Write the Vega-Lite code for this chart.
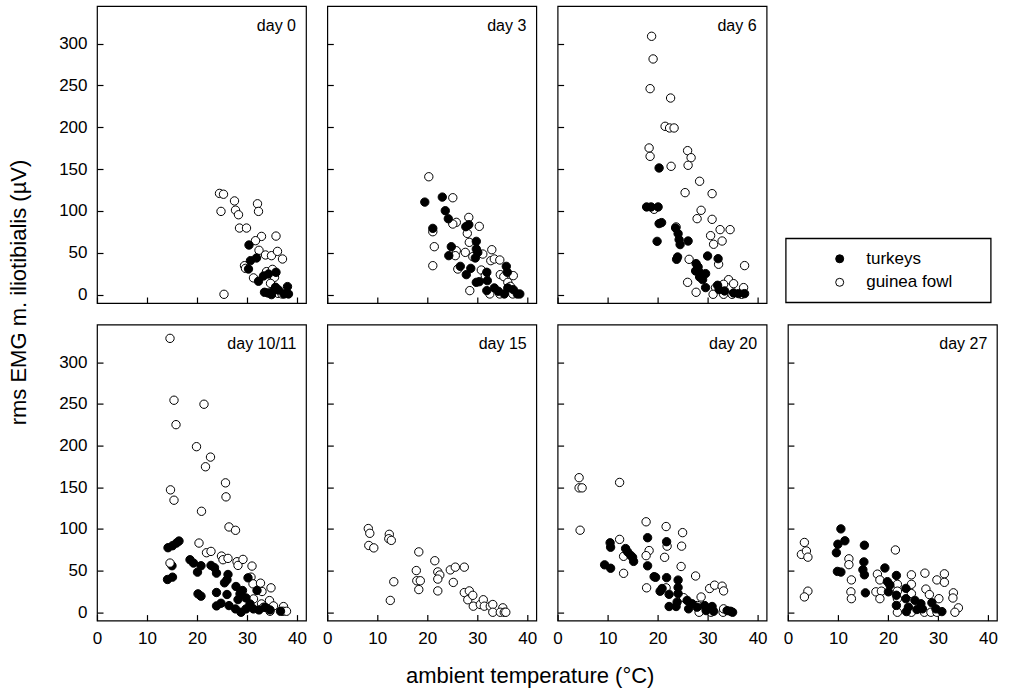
{
"$schema": "https://vega.github.io/schema/vega-lite/v6.json",
"background": "white",
"padding": {"left": 6, "top": 5, "right": 0, "bottom": 0},
"bounds": "flush",
"columns": 4,
"spacing": {"row": 21.6, "column": 21.3},
"title": {"text": "ambient temperature (°C)", "orient": "bottom", "anchor": "middle", "frame": "bounds", "fontSize": 22, "fontWeight": "normal", "font": "Liberation Sans", "color": "black", "baseline": "alphabetic", "offset": 36, "dx": 28},
"config": {
  "font": "Liberation Sans",
  "view": {"stroke": "black", "strokeWidth": 1.2},
  "title": {"anchor": "end", "orient": "top", "offset": -27.5, "dx": -10, "fontSize": 16, "fontWeight": "normal", "baseline": "alphabetic", "color": "black", "font": "Liberation Sans"},
  "axis": {"grid": false, "domain": false, "tickColor": "black", "tickSize": -6, "tickWidth": 1.2, "labelFontSize": 17, "labelColor": "black", "labelPadding": 16, "labelFont": "Liberation Sans", "labelFlush": false, "labelOverlap": false},
  "legend": {"orient": "none", "legendX": 688.7, "legendY": 232.3, "strokeColor": "black", "strokeWidth": 1.3, "fillColor": "white", "padding": 12, "symbolOffset": 33.5, "symbolSize": 64, "symbolType": "circle", "symbolStrokeColor": "black", "symbolStrokeWidth": 1, "labelFontSize": 17, "labelOffset": 18, "rowPadding": 5.5, "labelColor": "black", "labelFont": "Liberation Sans", "titleOrient": "right", "titlePadding": 26, "titleFontSize": 8}
},
"datasets": {
"d0": [
{"species":"guinea fowl","temp":24.5,"emg":121},{"species":"guinea fowl","temp":25.3,"emg":120},{"species":"guinea fowl","temp":24.8,"emg":99.5},{"species":"guinea fowl","temp":27.5,"emg":112},{"species":"guinea fowl","temp":27.7,"emg":101},{"species":"guinea fowl","temp":28.3,"emg":95.5},{"species":"guinea fowl","temp":28.5,"emg":79.6},{"species":"guinea fowl","temp":29.9,"emg":79.6},{"species":"guinea fowl","temp":25.4,"emg":0.4},{"species":"guinea fowl","temp":32.1,"emg":108.6},{"species":"guinea fowl","temp":32.3,"emg":99.5},{"species":"guinea fowl","temp":32.9,"emg":69.6},{"species":"guinea fowl","temp":35.8,"emg":70},{"species":"guinea fowl","temp":31.7,"emg":64.5},{"species":"guinea fowl","temp":32.4,"emg":53},{"species":"guinea fowl","temp":33.7,"emg":47.4},{"species":"guinea fowl","temp":34.9,"emg":46.6},{"species":"guinea fowl","temp":36.1,"emg":51.7},{"species":"guinea fowl","temp":37.1,"emg":42.6},{"species":"guinea fowl","temp":29.5,"emg":34.6},{"species":"guinea fowl","temp":29.7,"emg":31.4},{"species":"guinea fowl","temp":31.3,"emg":20},{"species":"guinea fowl","temp":33.9,"emg":27.5},{"species":"guinea fowl","temp":35.1,"emg":30.2},{"species":"guinea fowl","temp":35.5,"emg":20.7},{"species":"guinea fowl","temp":34.7,"emg":13.5},{"species":"guinea fowl","temp":36.2,"emg":1.6},{"species":"guinea fowl","temp":37,"emg":0.8},
{"species":"turkeys","temp":30.4,"emg":59.3},{"species":"turkeys","temp":30.7,"emg":40.6},{"species":"turkeys","temp":30.3,"emg":30.6},{"species":"turkeys","temp":31.9,"emg":43.8},{"species":"turkeys","temp":32.3,"emg":16},{"species":"turkeys","temp":33.3,"emg":22.3},{"species":"turkeys","temp":34.3,"emg":24.7},{"species":"turkeys","temp":35.8,"emg":26.7},{"species":"turkeys","temp":33.5,"emg":2.8},{"species":"turkeys","temp":34.2,"emg":2},{"species":"turkeys","temp":35.7,"emg":8.8},{"species":"turkeys","temp":36.3,"emg":5.6},{"species":"turkeys","temp":38.1,"emg":9.6},{"species":"turkeys","temp":38.3,"emg":0.8},{"species":"turkeys","temp":37.4,"emg":0.8},{"species":"turkeys","temp":34.9,"emg":0},{"species":"turkeys","temp":35.3,"emg":4.8}
],
"d3": [
{"species":"guinea fowl","temp":20.3,"emg":140.9},{"species":"guinea fowl","temp":25.1,"emg":115.8},{"species":"guinea fowl","temp":21.1,"emg":75.2},{"species":"guinea fowl","temp":21.4,"emg":57.3},{"species":"guinea fowl","temp":21.1,"emg":34.6},{"species":"guinea fowl","temp":25.8,"emg":86.4},{"species":"guinea fowl","temp":25.1,"emg":84.4},{"species":"guinea fowl","temp":28.3,"emg":92.3},{"species":"guinea fowl","temp":28,"emg":73.2},{"species":"guinea fowl","temp":30.4,"emg":81.6},{"species":"guinea fowl","temp":28.4,"emg":62.5},{"species":"guinea fowl","temp":25.8,"emg":52.5},{"species":"guinea fowl","temp":25.6,"emg":46.6},{"species":"guinea fowl","temp":27.6,"emg":50.5},{"species":"guinea fowl","temp":29.1,"emg":45.4},{"species":"guinea fowl","temp":31.1,"emg":48.5},{"species":"guinea fowl","temp":32.9,"emg":53.7},{"species":"guinea fowl","temp":26.1,"emg":30.6},{"species":"guinea fowl","temp":30.8,"emg":29.4},{"species":"guinea fowl","temp":32.7,"emg":40.6},{"species":"guinea fowl","temp":33.4,"emg":42.6},{"species":"guinea fowl","temp":34.5,"emg":41.4},{"species":"guinea fowl","temp":31.6,"emg":22.7},{"species":"guinea fowl","temp":34.6,"emg":23.9},{"species":"guinea fowl","temp":37.2,"emg":22.7},{"species":"guinea fowl","temp":35.3,"emg":21.5},{"species":"guinea fowl","temp":36.1,"emg":14.7},{"species":"guinea fowl","temp":36.6,"emg":9.9},{"species":"guinea fowl","temp":28.5,"emg":4.8},{"species":"guinea fowl","temp":32.5,"emg":0.8},{"species":"guinea fowl","temp":34.5,"emg":0.8},{"species":"guinea fowl","temp":37.1,"emg":0.8},
{"species":"turkeys","temp":19.5,"emg":110.6},{"species":"turkeys","temp":23,"emg":116.6},{"species":"turkeys","temp":23.6,"emg":100.3},{"species":"turkeys","temp":24.2,"emg":90.7},{"species":"turkeys","temp":27.7,"emg":81.2},{"species":"turkeys","temp":28.3,"emg":83.6},{"species":"turkeys","temp":24.8,"emg":57.3},{"species":"turkeys","temp":24.3,"emg":46.6},{"species":"turkeys","temp":26.6,"emg":33.8},{"species":"turkeys","temp":27.8,"emg":23.9},{"species":"turkeys","temp":28.7,"emg":31.4},{"species":"turkeys","temp":29.8,"emg":63.7},{"species":"turkeys","temp":29.8,"emg":54.5},{"species":"turkeys","temp":30.1,"emg":50.5},{"species":"turkeys","temp":29.6,"emg":43.8},{"species":"turkeys","temp":29.8,"emg":14.7},{"species":"turkeys","temp":30.4,"emg":15.5},{"species":"turkeys","temp":31.9,"emg":26.7},{"species":"turkeys","temp":32,"emg":16.7},{"species":"turkeys","temp":31.9,"emg":4.8},{"species":"turkeys","temp":33.4,"emg":8},{"species":"turkeys","temp":34.2,"emg":4},{"species":"turkeys","temp":35.8,"emg":33.8},{"species":"turkeys","temp":36,"emg":26.7},{"species":"turkeys","temp":36.1,"emg":8},{"species":"turkeys","temp":37.2,"emg":6},{"species":"turkeys","temp":38,"emg":0.8},{"species":"turkeys","temp":38.5,"emg":0.8},{"species":"turkeys","temp":35.4,"emg":0.8},{"species":"turkeys","temp":21.1,"emg":79.2}
],
"d6": [
{"species":"guinea fowl","temp":18.8,"emg":308.8},{"species":"guinea fowl","temp":19.1,"emg":281.7},{"species":"guinea fowl","temp":18.5,"emg":246.2},{"species":"guinea fowl","temp":22.6,"emg":235},{"species":"guinea fowl","temp":21.5,"emg":201.2},{"species":"guinea fowl","temp":22.4,"emg":199.2},{"species":"guinea fowl","temp":23.3,"emg":199.2},{"species":"guinea fowl","temp":18.3,"emg":175.3},{"species":"guinea fowl","temp":18.5,"emg":165.3},{"species":"guinea fowl","temp":22.7,"emg":153.4},{"species":"guinea fowl","temp":26,"emg":172.1},{"species":"guinea fowl","temp":26.7,"emg":163.7},{"species":"guinea fowl","temp":26.1,"emg":154.6},{"species":"guinea fowl","temp":28.4,"emg":135.5},{"species":"guinea fowl","temp":25.5,"emg":121.9},{"species":"guinea fowl","temp":30.9,"emg":120.7},{"species":"guinea fowl","temp":19.3,"emg":102},{"species":"guinea fowl","temp":28.7,"emg":100.8},{"species":"guinea fowl","temp":27.9,"emg":90.8},{"species":"guinea fowl","temp":30.9,"emg":90},{"species":"guinea fowl","temp":23.7,"emg":80.9},{"species":"guinea fowl","temp":32.5,"emg":77.7},{"species":"guinea fowl","temp":34.5,"emg":77.7},{"species":"guinea fowl","temp":30.6,"emg":70.5},{"species":"guinea fowl","temp":32.9,"emg":64.1},{"species":"guinea fowl","temp":31.2,"emg":60.2},{"species":"guinea fowl","temp":26.3,"emg":42.2},{"species":"guinea fowl","temp":32.2,"emg":36.3},{"species":"guinea fowl","temp":37.4,"emg":34.7},{"species":"guinea fowl","temp":26,"emg":14.7},{"species":"guinea fowl","temp":27.7,"emg":2.8},{"species":"guinea fowl","temp":34.2,"emg":17.9},{"species":"guinea fowl","temp":33.2,"emg":12.4},{"species":"guinea fowl","temp":35.2,"emg":13.1},{"species":"guinea fowl","temp":37.2,"emg":8.4},{"species":"guinea fowl","temp":31.6,"emg":8.4},{"species":"guinea fowl","temp":31.1,"emg":0.4},{"species":"guinea fowl","temp":33.2,"emg":0.4},{"species":"guinea fowl","temp":34.9,"emg":0.4},{"species":"guinea fowl","temp":36.8,"emg":0.4},
{"species":"turkeys","temp":20.3,"emg":151.4},{"species":"turkeys","temp":17.8,"emg":104.8},{"species":"turkeys","temp":18.7,"emg":104.8},{"species":"turkeys","temp":20.1,"emg":104.8},{"species":"turkeys","temp":20.3,"emg":84.9},{"species":"turkeys","temp":20.8,"emg":86.1},{"species":"turkeys","temp":19.9,"emg":63.7},{"species":"turkeys","temp":23.6,"emg":79.7},{"species":"turkeys","temp":24.1,"emg":72.9},{"species":"turkeys","temp":24.3,"emg":65.7},{"species":"turkeys","temp":26.1,"emg":64.1},{"species":"turkeys","temp":24.5,"emg":59.8},{"species":"turkeys","temp":24,"emg":45},{"species":"turkeys","temp":23.8,"emg":42.2},{"species":"turkeys","temp":27.7,"emg":37.1},{"species":"turkeys","temp":28.1,"emg":33.1},{"species":"turkeys","temp":28.3,"emg":27.1},{"species":"turkeys","temp":28.4,"emg":21.1},{"species":"turkeys","temp":29,"emg":17.9},{"species":"turkeys","temp":29.6,"emg":25.1},{"species":"turkeys","temp":30,"emg":46.2},{"species":"turkeys","temp":32.1,"emg":43},{"species":"turkeys","temp":29.6,"emg":8.4},{"species":"turkeys","temp":32,"emg":11.2},{"species":"turkeys","temp":32.3,"emg":6},{"species":"turkeys","temp":33.4,"emg":4.4},{"species":"turkeys","temp":35.2,"emg":2},{"species":"turkeys","temp":36.2,"emg":1.2},{"species":"turkeys","temp":37.4,"emg":1.2},{"species":"turkeys","temp":27.6,"emg":28.3}
],
"d10": [
{"species":"guinea fowl","temp":14.6,"emg":328.5},{"species":"guinea fowl","temp":15.4,"emg":254.3},{"species":"guinea fowl","temp":15.8,"emg":225},{"species":"guinea fowl","temp":21.4,"emg":249.5},{"species":"guinea fowl","temp":19.9,"emg":198.6},{"species":"guinea fowl","temp":22.7,"emg":186.1},{"species":"guinea fowl","temp":21.7,"emg":174.5},{"species":"guinea fowl","temp":25.7,"emg":155.2},{"species":"guinea fowl","temp":25.8,"emg":138.4},{"species":"guinea fowl","temp":14.7,"emg":146.8},{"species":"guinea fowl","temp":15.4,"emg":134.4},{"species":"guinea fowl","temp":20.9,"emg":121.1},{"species":"guinea fowl","temp":26.4,"emg":102.3},{"species":"guinea fowl","temp":27.7,"emg":98.3},{"species":"guinea fowl","temp":20.4,"emg":83},{"species":"guinea fowl","temp":21.9,"emg":71.4},{"species":"guinea fowl","temp":22.8,"emg":73},{"species":"guinea fowl","temp":24.9,"emg":67.4},{"species":"guinea fowl","temp":25.2,"emg":63},{"species":"guinea fowl","temp":26.2,"emg":64.6},{"species":"guinea fowl","temp":28,"emg":60.6},{"species":"guinea fowl","temp":28.2,"emg":56.2},{"species":"guinea fowl","temp":29.2,"emg":63.4},{"species":"guinea fowl","temp":31,"emg":55.4},{"species":"guinea fowl","temp":30.8,"emg":42.1},{"species":"guinea fowl","temp":31.2,"emg":34.1},{"species":"guinea fowl","temp":32.7,"emg":34.9},{"species":"guinea fowl","temp":34.8,"emg":29.3},{"species":"guinea fowl","temp":33,"emg":24.9},{"species":"guinea fowl","temp":31.3,"emg":16},{"species":"guinea fowl","temp":32.9,"emg":10},{"species":"guinea fowl","temp":34.5,"emg":14},{"species":"guinea fowl","temp":35.3,"emg":7.6},{"species":"guinea fowl","temp":37.3,"emg":6.8},{"species":"guinea fowl","temp":34.6,"emg":1.2},{"species":"guinea fowl","temp":37.2,"emg":1.2},{"species":"guinea fowl","temp":37.9,"emg":1.2},{"species":"guinea fowl","temp":33.3,"emg":6},
{"species":"turkeys","temp":14.2,"emg":77.4},{"species":"turkeys","temp":15.1,"emg":79.8},{"species":"turkeys","temp":15.9,"emg":83},{"species":"turkeys","temp":16.4,"emg":85.4},{"species":"turkeys","temp":14.1,"emg":39.3},{"species":"turkeys","temp":15.1,"emg":42.1},{"species":"turkeys","temp":15,"emg":55.8},{"species":"turkeys","temp":18.6,"emg":63},{"species":"turkeys","temp":19.3,"emg":59},{"species":"turkeys","temp":20.8,"emg":55.8},{"species":"turkeys","temp":20.1,"emg":48.1},{"species":"turkeys","temp":22.8,"emg":56.2},{"species":"turkeys","temp":23.5,"emg":53.4},{"species":"turkeys","temp":23.9,"emg":46.9},{"species":"turkeys","temp":25.5,"emg":35.3},{"species":"turkeys","temp":26.2,"emg":45.3},{"species":"turkeys","temp":26,"emg":38.9},{"species":"turkeys","temp":20.2,"emg":22.1},{"species":"turkeys","temp":20.8,"emg":19.3},{"species":"turkeys","temp":23.9,"emg":23.7},{"species":"turkeys","temp":23.9,"emg":7.6},{"species":"turkeys","temp":24.8,"emg":10.8},{"species":"turkeys","temp":26,"emg":21.3},{"species":"turkeys","temp":26.4,"emg":8},{"species":"turkeys","temp":27.7,"emg":4},{"species":"turkeys","temp":27.8,"emg":30.9},{"species":"turkeys","temp":28.6,"emg":22.1},{"species":"turkeys","temp":29.1,"emg":26.1},{"species":"turkeys","temp":28.2,"emg":15.2},{"species":"turkeys","temp":29.8,"emg":17.2},{"species":"turkeys","temp":28.8,"emg":0},{"species":"turkeys","temp":29.8,"emg":4},{"species":"turkeys","temp":30.6,"emg":10},{"species":"turkeys","temp":32,"emg":26.1},{"species":"turkeys","temp":30.2,"emg":41.3},{"species":"turkeys","temp":31.3,"emg":4},{"species":"turkeys","temp":32.4,"emg":2.8},{"species":"turkeys","temp":33.6,"emg":6},{"species":"turkeys","temp":34.6,"emg":2.8},{"species":"turkeys","temp":36.7,"emg":1.2},
{"species":"guinea fowl","temp":14.6,"emg":59}
],
"d15": [
{"species":"guinea fowl","temp":8.2,"emg":100.4},{"species":"guinea fowl","temp":8.5,"emg":94.7},{"species":"guinea fowl","temp":8.3,"emg":80.1},{"species":"guinea fowl","temp":9.3,"emg":77.2},{"species":"guinea fowl","temp":12.4,"emg":93.5},{"species":"guinea fowl","temp":12.3,"emg":88.2},{"species":"guinea fowl","temp":12.8,"emg":86.2},{"species":"guinea fowl","temp":12.6,"emg":14.2},{"species":"guinea fowl","temp":13.3,"emg":36.6},{"species":"guinea fowl","temp":18.3,"emg":72.4},{"species":"guinea fowl","temp":17.8,"emg":50},{"species":"guinea fowl","temp":17.9,"emg":37.8},{"species":"guinea fowl","temp":18.6,"emg":37.8},{"species":"guinea fowl","temp":18.3,"emg":27.2},{"species":"guinea fowl","temp":21.5,"emg":61.8},{"species":"guinea fowl","temp":22.1,"emg":48.4},{"species":"guinea fowl","temp":22.5,"emg":44.7},{"species":"guinea fowl","temp":22.1,"emg":39.8},{"species":"guinea fowl","temp":22.1,"emg":25.6},{"species":"guinea fowl","temp":24.6,"emg":50.8},{"species":"guinea fowl","temp":25.6,"emg":54.1},{"species":"guinea fowl","temp":25.2,"emg":35.8},{"species":"guinea fowl","temp":27.4,"emg":54.1},{"species":"guinea fowl","temp":27.4,"emg":23.6},{"species":"guinea fowl","temp":28.4,"emg":25.6},{"species":"guinea fowl","temp":28.1,"emg":15},{"species":"guinea fowl","temp":29.1,"emg":20.3},{"species":"guinea fowl","temp":29.2,"emg":7.3},{"species":"guinea fowl","temp":30.6,"emg":9.3},{"species":"guinea fowl","temp":31.2,"emg":15},{"species":"guinea fowl","temp":31.4,"emg":7.3},{"species":"guinea fowl","temp":32.6,"emg":7.3},{"species":"guinea fowl","temp":33.1,"emg":9.3},{"species":"guinea fowl","temp":33.1,"emg":0},{"species":"guinea fowl","temp":35.1,"emg":5.3},{"species":"guinea fowl","temp":34.6,"emg":0},{"species":"guinea fowl","temp":35.4,"emg":0},{"species":"guinea fowl","temp":35.7,"emg":0}
],
"d20": [
{"species":"guinea fowl","temp":4.3,"emg":161.4},{"species":"guinea fowl","temp":4.3,"emg":149.2},{"species":"guinea fowl","temp":4.9,"emg":149.2},{"species":"guinea fowl","temp":12.4,"emg":155.7},{"species":"guinea fowl","temp":4.5,"emg":98.4},{"species":"guinea fowl","temp":12.4,"emg":87.4},{"species":"guinea fowl","temp":13.2,"emg":67.1},{"species":"guinea fowl","temp":13.2,"emg":46.7},{"species":"guinea fowl","temp":17.7,"emg":108.5},{"species":"guinea fowl","temp":21.7,"emg":102.8},{"species":"guinea fowl","temp":25,"emg":95.5},{"species":"guinea fowl","temp":18.3,"emg":74},{"species":"guinea fowl","temp":17.7,"emg":67.9},{"species":"guinea fowl","temp":21.9,"emg":79.3},{"species":"guinea fowl","temp":24.8,"emg":79.3},{"species":"guinea fowl","temp":21.4,"emg":65.9},{"species":"guinea fowl","temp":24.7,"emg":54.9},{"species":"guinea fowl","temp":17.8,"emg":29.3},{"species":"guinea fowl","temp":21.7,"emg":29.3},{"species":"guinea fowl","temp":27.6,"emg":43.5},{"species":"guinea fowl","temp":28.7,"emg":18.3},{"species":"guinea fowl","temp":30.4,"emg":28.5},{"species":"guinea fowl","temp":31.4,"emg":32.5},{"species":"guinea fowl","temp":32.9,"emg":31.3},{"species":"guinea fowl","temp":33.2,"emg":25.6},{"species":"guinea fowl","temp":25.2,"emg":17.5},{"species":"guinea fowl","temp":28,"emg":8.1},{"species":"guinea fowl","temp":28.3,"emg":0},{"species":"guinea fowl","temp":30.7,"emg":0},{"species":"guinea fowl","temp":33.1,"emg":0},{"species":"guinea fowl","temp":33.2,"emg":4.1},
{"species":"turkeys","temp":10.5,"emg":83.3},{"species":"turkeys","temp":10.6,"emg":78},{"species":"turkeys","temp":9.4,"emg":56.9},{"species":"turkeys","temp":10.6,"emg":52.8},{"species":"turkeys","temp":13.6,"emg":76.4},{"species":"turkeys","temp":14,"emg":72.4},{"species":"turkeys","temp":14.6,"emg":68.3},{"species":"turkeys","temp":15,"emg":65.9},{"species":"turkeys","temp":15.2,"emg":61},{"species":"turkeys","temp":18,"emg":89.4},{"species":"turkeys","temp":18,"emg":55.7},{"species":"turkeys","temp":19.3,"emg":42.7},{"species":"turkeys","temp":19.6,"emg":41.9},{"species":"turkeys","temp":21.8,"emg":84.6},{"species":"turkeys","temp":21.8,"emg":41.5},{"species":"turkeys","temp":20.5,"emg":25.2},{"species":"turkeys","temp":20.9,"emg":28.5},{"species":"turkeys","temp":22.3,"emg":21.5},{"species":"turkeys","temp":22.3,"emg":6.9},{"species":"turkeys","temp":24.1,"emg":38.6},{"species":"turkeys","temp":24.1,"emg":29.7},{"species":"turkeys","temp":24.1,"emg":22.4},{"species":"turkeys","temp":23.9,"emg":12.2},{"species":"turkeys","temp":23.7,"emg":6.9},{"species":"turkeys","temp":25.9,"emg":14.2},{"species":"turkeys","temp":26.2,"emg":4.1},{"species":"turkeys","temp":26.9,"emg":10.2},{"species":"turkeys","temp":27.9,"emg":6.1},{"species":"turkeys","temp":29.4,"emg":8.1},{"species":"turkeys","temp":29.7,"emg":2},{"species":"turkeys","temp":30.9,"emg":6.9},{"species":"turkeys","temp":31.2,"emg":1.2},{"species":"turkeys","temp":33.9,"emg":2},{"species":"turkeys","temp":34.6,"emg":1.2},{"species":"turkeys","temp":35,"emg":0}
],
"d27": [
{"species":"guinea fowl","temp":3.3,"emg":83.7},{"species":"guinea fowl","temp":2.7,"emg":69.4},{"species":"guinea fowl","temp":3.7,"emg":73.5},{"species":"guinea fowl","temp":4,"emg":66.1},{"species":"guinea fowl","temp":4,"emg":25.3},{"species":"guinea fowl","temp":3.3,"emg":18.4},{"species":"guinea fowl","temp":21.5,"emg":74.7},{"species":"guinea fowl","temp":12.2,"emg":64.1},{"species":"guinea fowl","temp":12.2,"emg":57.1},{"species":"guinea fowl","temp":12.7,"emg":38.8},{"species":"guinea fowl","temp":12.6,"emg":24.5},{"species":"guinea fowl","temp":12.7,"emg":16.3},{"species":"guinea fowl","temp":17.9,"emg":45.7},{"species":"guinea fowl","temp":18.4,"emg":38.8},{"species":"guinea fowl","temp":17.6,"emg":24.5},{"species":"guinea fowl","temp":18.7,"emg":25.3},{"species":"guinea fowl","temp":18.4,"emg":16.3},{"species":"guinea fowl","temp":21.9,"emg":33.5},{"species":"guinea fowl","temp":21.9,"emg":25.3},{"species":"guinea fowl","temp":21.9,"emg":16.3},{"species":"guinea fowl","temp":24.7,"emg":44.9},{"species":"guinea fowl","temp":27.4,"emg":46.9},{"species":"guinea fowl","temp":24.7,"emg":33.5},{"species":"guinea fowl","temp":24.7,"emg":22.4},{"species":"guinea fowl","temp":27.6,"emg":27.8},{"species":"guinea fowl","temp":28.3,"emg":21.2},{"species":"guinea fowl","temp":29.8,"emg":38.8},{"species":"guinea fowl","temp":31.3,"emg":46.1},{"species":"guinea fowl","temp":31.3,"emg":35.9},{"species":"guinea fowl","temp":30.2,"emg":16.3},{"species":"guinea fowl","temp":33.1,"emg":23.3},{"species":"guinea fowl","temp":33,"emg":17.1},{"species":"guinea fowl","temp":34.1,"emg":5.3},{"species":"guinea fowl","temp":33.4,"emg":0},{"species":"guinea fowl","temp":21.9,"emg":0},{"species":"guinea fowl","temp":24.7,"emg":0},{"species":"guinea fowl","temp":27.3,"emg":0},{"species":"guinea fowl","temp":28.6,"emg":0},{"species":"guinea fowl","temp":29.8,"emg":0},
{"species":"turkeys","temp":10.6,"emg":100},{"species":"turkeys","temp":11.4,"emg":85.7},{"species":"turkeys","temp":10,"emg":81.6},{"species":"turkeys","temp":9.7,"emg":71.4},{"species":"turkeys","temp":9.9,"emg":49},{"species":"turkeys","temp":10.6,"emg":48.2},{"species":"turkeys","temp":15.3,"emg":80.4},{"species":"turkeys","temp":15.2,"emg":60.4},{"species":"turkeys","temp":15,"emg":51},{"species":"turkeys","temp":15.3,"emg":44.9},{"species":"turkeys","temp":15.5,"emg":23.3},{"species":"turkeys","temp":19.4,"emg":53.1},{"species":"turkeys","temp":19.9,"emg":36.7},{"species":"turkeys","temp":20.4,"emg":32.7},{"species":"turkeys","temp":21.7,"emg":44.1},{"species":"turkeys","temp":20.1,"emg":24.5},{"species":"turkeys","temp":21.7,"emg":20.4},{"species":"turkeys","temp":23.6,"emg":28.6},{"species":"turkeys","temp":23.6,"emg":16.3},{"species":"turkeys","temp":21.7,"emg":8.2},{"species":"turkeys","temp":24.1,"emg":6.1},{"species":"turkeys","temp":25.4,"emg":14.3},{"species":"turkeys","temp":26.6,"emg":10.2},{"species":"turkeys","temp":26.9,"emg":4.1},{"species":"turkeys","temp":28.8,"emg":11.4},{"species":"turkeys","temp":29.6,"emg":4.1},{"species":"turkeys","temp":30.8,"emg":0.8},{"species":"turkeys","temp":25.8,"emg":3.3},{"species":"turkeys","temp":23.7,"emg":0.8}
]
},
"concat": [
 {"data": {"name": "d0"}, "width": 209, "height": 297, "title": "day 0",
  "mark": {"type": "point", "filled": true, "size": 70, "stroke": "black", "strokeWidth": 1, "opacity": 1},
  "encoding": {
   "x": {"field": "temp", "type": "quantitative", "scale": {"domain": [0, 41.8], "nice": false, "zero": false}, "axis": {"values": [0,10,20,30,40], "labels": false, "title": null}},
   "y": {"field": "emg", "type": "quantitative", "scale": {"domain": [-10, 345], "nice": false, "zero": false}, "axis": {"values": [0,50,100,150,200,250,300], "title": "rms EMG m. iliotibialis (µV)", "titleFontSize": 22, "titleFontWeight": "normal", "titleColor": "black", "titleFont": "Liberation Sans", "titleAngle": -90, "titleX": -79, "titleY": 286, "titleBaseline": "middle", "titleAlign": "center"}},
   "fill": {"field": "species", "type": "nominal", "scale": {"domain": ["turkeys", "guinea fowl"], "range": ["black", "white"]}, "title": "\u00a0"}
  }},
 {"data": {"name": "d3"}, "width": 209, "height": 297, "title": "day 3",
  "mark": {"type": "point", "filled": true, "size": 70, "stroke": "black", "strokeWidth": 1, "opacity": 1},
  "encoding": {
   "x": {"field": "temp", "type": "quantitative", "scale": {"domain": [0, 41.8], "nice": false, "zero": false}, "axis": {"values": [0,10,20,30,40], "labels": false, "title": null}},
   "y": {"field": "emg", "type": "quantitative", "scale": {"domain": [-10, 345], "nice": false, "zero": false}, "axis": {"values": [0,50,100,150,200,250,300], "labels": false, "title": null}},
   "fill": {"field": "species", "type": "nominal", "scale": {"domain": ["turkeys", "guinea fowl"], "range": ["black", "white"]}, "title": "\u00a0"}
  }},
 {"data": {"name": "d6"}, "width": 209, "height": 297, "title": "day 6",
  "mark": {"type": "point", "filled": true, "size": 70, "stroke": "black", "strokeWidth": 1, "opacity": 1},
  "encoding": {
   "x": {"field": "temp", "type": "quantitative", "scale": {"domain": [0, 41.8], "nice": false, "zero": false}, "axis": {"values": [0,10,20,30,40], "labels": false, "title": null}},
   "y": {"field": "emg", "type": "quantitative", "scale": {"domain": [-10, 345], "nice": false, "zero": false}, "axis": {"values": [0,50,100,150,200,250,300], "labels": false, "title": null}},
   "fill": {"field": "species", "type": "nominal", "scale": {"domain": ["turkeys", "guinea fowl"], "range": ["black", "white"]}, "title": "\u00a0"}
  }},
 {"data": {"values": []}, "width": 209, "height": 297, "view": {"stroke": null}, "mark": {"type": "point"}, "encoding": {}},
 {"data": {"name": "d10"}, "width": 209, "height": 296, "title": "day 10/11",
  "mark": {"type": "point", "filled": true, "size": 70, "stroke": "black", "strokeWidth": 1, "opacity": 1},
  "encoding": {
   "x": {"field": "temp", "type": "quantitative", "scale": {"domain": [0, 41.8], "nice": false, "zero": false}, "axis": {"values": [0,10,20,30,40], "title": null}},
   "y": {"field": "emg", "type": "quantitative", "scale": {"domain": [-10, 345], "nice": false, "zero": false}, "axis": {"values": [0,50,100,150,200,250,300], "title": null}},
   "fill": {"field": "species", "type": "nominal", "scale": {"domain": ["turkeys", "guinea fowl"], "range": ["black", "white"]}, "title": "\u00a0"}
  }},
 {"data": {"name": "d15"}, "width": 209, "height": 296, "title": "day 15",
  "mark": {"type": "point", "filled": true, "size": 70, "stroke": "black", "strokeWidth": 1, "opacity": 1},
  "encoding": {
   "x": {"field": "temp", "type": "quantitative", "scale": {"domain": [0, 41.8], "nice": false, "zero": false}, "axis": {"values": [0,10,20,30,40], "title": null}},
   "y": {"field": "emg", "type": "quantitative", "scale": {"domain": [-10, 345], "nice": false, "zero": false}, "axis": {"values": [0,50,100,150,200,250,300], "labels": false, "title": null}},
   "fill": {"field": "species", "type": "nominal", "scale": {"domain": ["turkeys", "guinea fowl"], "range": ["black", "white"]}, "title": "\u00a0"}
  }},
 {"data": {"name": "d20"}, "width": 209, "height": 296, "title": "day 20",
  "mark": {"type": "point", "filled": true, "size": 70, "stroke": "black", "strokeWidth": 1, "opacity": 1},
  "encoding": {
   "x": {"field": "temp", "type": "quantitative", "scale": {"domain": [0, 41.8], "nice": false, "zero": false}, "axis": {"values": [0,10,20,30,40], "title": null}},
   "y": {"field": "emg", "type": "quantitative", "scale": {"domain": [-10, 345], "nice": false, "zero": false}, "axis": {"values": [0,50,100,150,200,250,300], "labels": false, "title": null}},
   "fill": {"field": "species", "type": "nominal", "scale": {"domain": ["turkeys", "guinea fowl"], "range": ["black", "white"]}, "title": "\u00a0"}
  }},
 {"data": {"name": "d27"}, "width": 209, "height": 296, "title": "day 27",
  "mark": {"type": "point", "filled": true, "size": 70, "stroke": "black", "strokeWidth": 1, "opacity": 1},
  "encoding": {
   "x": {"field": "temp", "type": "quantitative", "scale": {"domain": [0, 41.8], "nice": false, "zero": false}, "axis": {"values": [0,10,20,30,40], "title": null}},
   "y": {"field": "emg", "type": "quantitative", "scale": {"domain": [-10, 345], "nice": false, "zero": false}, "axis": {"values": [0,50,100,150,200,250,300], "labels": false, "title": null}},
   "fill": {"field": "species", "type": "nominal", "scale": {"domain": ["turkeys", "guinea fowl"], "range": ["black", "white"]}, "title": "\u00a0"}
  }}
]
}
